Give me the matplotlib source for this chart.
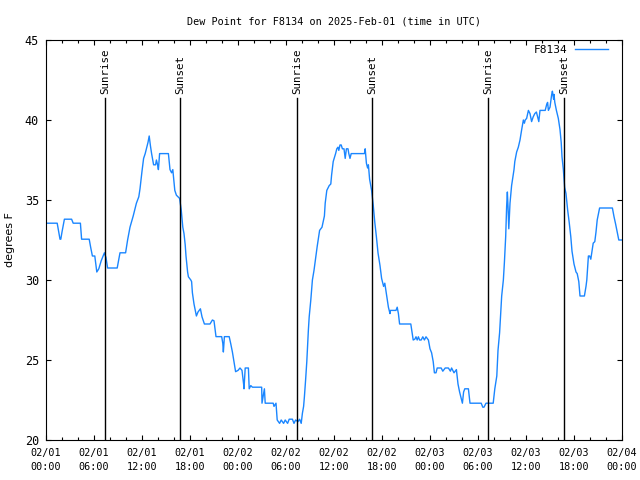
import matplotlib
matplotlib.use("Agg")
import matplotlib.pyplot as plt

# ── Data (hours since 2025-02-01 00:00 UTC, dew point in F) ──────────────────
hours = [
    0.0, 1.4, 1.6, 1.75, 1.85, 2.0, 2.3, 3.2, 3.4, 4.3, 4.45, 5.4, 5.6, 5.8,
    6.1, 6.25, 6.35, 6.6, 6.9, 7.3, 7.5, 7.7, 8.9, 9.1, 9.25, 9.95, 10.2, 10.5,
    10.9, 11.3, 11.6, 11.75, 12.0, 12.2, 12.4, 12.6, 12.75, 12.9, 13.05, 13.2,
    13.45, 13.7, 13.8, 13.95, 14.05, 14.2, 15.3, 15.5, 15.7, 15.85, 16.1, 16.3,
    16.7, 16.9, 17.1, 17.25, 17.4, 17.5, 17.7, 17.8, 18.1, 18.2, 18.3, 18.5,
    18.7, 18.8, 19.0, 19.3, 19.5, 19.8, 20.5, 20.8, 21.0, 21.25, 21.96, 22.1,
    22.17, 22.3, 22.9, 23.1, 23.3, 23.5, 23.7, 24.0, 24.25, 24.5, 24.7, 24.75,
    24.9, 25.3, 25.4, 25.6, 25.8, 26.96, 27.0, 27.2, 27.3, 27.4, 28.4, 28.5,
    28.75, 28.9, 29.2, 29.4, 29.7, 29.9, 30.2, 30.4, 30.8, 31.0, 31.2, 31.5,
    31.7, 31.9, 32.05, 32.2, 32.3, 32.45, 32.6, 32.8, 32.9, 33.1, 33.3, 33.5,
    33.7, 33.9, 34.2, 34.5, 34.8, 34.9, 35.1, 35.4, 35.6, 35.7, 35.9, 36.2,
    36.35, 36.5, 36.6, 36.75, 36.9, 37.05, 37.25, 37.4, 37.55, 37.75, 37.85,
    38.0, 38.15, 39.8, 39.9, 40.05, 40.2, 40.3, 40.45, 40.7, 40.9, 41.1, 41.3,
    41.5, 41.75, 41.95, 42.2, 42.35, 42.6, 42.8, 43.0, 43.05, 43.75, 43.9,
    44.05, 44.2, 45.6, 45.9, 46.1, 46.25, 46.4, 46.55, 46.7, 46.9, 47.1, 47.3,
    47.5, 47.8, 48.0, 48.2, 48.4, 48.55, 48.75, 48.9, 49.1, 49.4, 49.6, 49.9,
    50.3, 50.55, 50.7, 51.0, 51.3, 51.5, 51.7, 51.9, 52.05, 52.2, 52.35, 52.8,
    53.0, 54.4, 54.6, 54.75, 55.0, 55.9, 56.1, 56.35, 56.5, 56.7, 56.85, 56.96,
    57.17, 57.3, 57.46, 57.58, 57.67, 57.75, 57.85, 58.0, 58.2, 58.33, 58.5,
    58.6, 58.83, 59.04, 59.25, 59.46, 59.67, 59.8, 59.9, 60.08, 60.3, 60.5,
    60.7, 60.9, 61.1, 61.3, 61.45, 61.6, 61.75, 62.4, 62.6, 62.7, 62.8, 63.0,
    63.2, 63.3, 63.45, 63.5, 63.6, 63.8, 64.04, 64.25, 64.4, 64.5, 64.67,
    64.83, 65.0, 65.2, 65.4, 65.6, 65.75, 66.0, 66.25, 66.4, 66.6, 66.75, 67.3,
    67.5, 67.6, 67.8, 67.95, 68.1, 68.25, 68.4, 68.6, 68.75, 68.9, 69.2, 70.8,
    71.0, 71.2, 71.4, 71.6, 72.0,
]
dew_point = [
    33.55, 33.55, 33.0, 32.55, 32.55, 33.0, 33.8, 33.8, 33.55, 33.55, 32.55,
    32.55, 32.0, 31.5, 31.5, 30.9, 30.5, 30.7, 31.2, 31.7, 31.4, 30.75, 30.75,
    31.3, 31.7, 31.7, 32.5, 33.3, 34.0, 34.8, 35.2, 35.7, 36.8, 37.6, 37.9,
    38.3, 38.6, 39.0, 38.4, 37.9, 37.2, 37.2, 37.5, 37.2, 36.9, 37.9, 37.9,
    36.9, 36.7, 36.9, 35.6, 35.3, 35.1, 34.4, 33.3, 32.9, 32.2, 31.5, 30.5,
    30.2, 30.0, 29.9, 29.2, 28.5, 28.0, 27.75, 28.0, 28.2, 27.7, 27.25, 27.25,
    27.5, 27.45, 26.46, 26.46, 26.04, 25.5, 26.46, 26.46, 26.0, 25.5, 24.9,
    24.27, 24.35, 24.5, 24.35, 23.5, 23.2, 24.5, 24.5, 23.2, 23.4, 23.3, 23.3,
    22.3, 22.9, 23.2, 22.3, 22.3, 22.1, 22.3, 21.25, 21.04, 21.25, 21.04,
    21.25, 21.04, 21.3, 21.3, 21.04, 21.25, 21.15, 21.3, 21.04, 21.67, 22.1,
    22.7, 23.75, 24.9, 26.9, 27.7, 28.75, 30.0, 30.6, 31.35, 32.1, 33.1, 33.3,
    34.0, 34.8, 35.6, 35.9, 36.0, 36.56, 37.4, 37.9, 38.2, 38.3, 38.1, 38.44,
    38.44, 38.2, 38.2, 37.6, 38.2, 38.2, 37.9, 37.6, 37.9, 37.9, 38.2, 37.3,
    37.0, 37.2, 36.3, 35.6, 34.7, 33.6, 32.7, 31.7, 30.9, 30.1, 29.6, 29.8,
    28.96, 28.3, 27.9, 28.1, 28.1, 28.3, 27.9, 27.25, 27.25, 26.25, 26.3,
    26.45, 26.25, 26.45, 26.25, 26.25, 26.45, 26.25, 26.45, 26.25, 25.7, 25.45,
    24.9, 24.2, 24.2, 24.5, 24.5, 24.5, 24.3, 24.5, 24.5, 24.3, 24.5, 24.2,
    24.4, 23.5, 23.0, 22.6, 22.3, 23.0, 23.2, 23.2, 22.3, 22.3, 22.05, 22.05,
    22.3, 22.3, 23.2, 24.0, 25.6, 26.7, 28.0, 29.0, 30.0, 31.1, 32.7, 34.6,
    35.5, 34.6, 33.2, 34.8, 35.9, 36.35, 36.9, 37.4, 38.0, 38.3, 38.75, 39.4,
    40.0, 39.8, 40.0, 40.1, 40.6, 40.4, 39.9, 40.2, 40.4, 40.5, 40.2, 39.9,
    40.6, 40.6, 41.0, 41.1, 40.6, 40.8, 41.56, 41.8, 41.3, 41.6, 41.1, 40.6,
    40.1, 39.4, 38.6, 37.7, 36.9, 35.8, 35.4, 34.4, 33.6, 32.7, 31.8, 31.0,
    30.5, 30.4, 29.9, 29.0, 29.0, 29.6, 30.0, 31.5, 31.5, 31.3, 31.8, 32.3,
    32.4, 33.0, 33.75, 34.5, 34.5, 33.96, 33.5, 33.0, 32.5, 32.5,
]

sun_hours = [7.4, 16.8, 31.4, 40.8, 55.3, 64.8]
sun_labels = ["Sunrise", "Sunset", "Sunrise", "Sunset", "Sunrise", "Sunset"]

tick_hours = list(range(0, 73, 6))
tick_labels = [
    "02/01\n00:00", "02/01\n06:00", "02/01\n12:00", "02/01\n18:00",
    "02/02\n00:00", "02/02\n06:00", "02/02\n12:00", "02/02\n18:00",
    "02/03\n00:00", "02/03\n06:00", "02/03\n12:00", "02/03\n18:00",
    "02/04\n00:00",
]

# ── Plot ──────────────────────────────────────────────────────────────────────
plt.rcParams["font.family"] = "DejaVu Sans Mono"
plt.rcParams["font.size"] = 7.3

fig = plt.figure(figsize=(6.4, 4.8), dpi=100)
ax = fig.add_axes([46 / 640, 40 / 480, 576 / 640, 400 / 480])

ax.plot(hours, dew_point, color="#1a86ff", linewidth=1.0, label="F8134")

for h, lab in zip(sun_hours, sun_labels):
    ax.plot([h, h], [20, 41.4], color="black", linewidth=1.0)
    ax.text(h, 41.65, lab, rotation=90, ha="center", va="bottom", fontsize=7.8)

ax.set_xlim(0, 72)
ax.set_ylim(20, 45)
ax.set_xticks(tick_hours)
ax.set_xticklabels(tick_labels, linespacing=1.45)
ax.set_xticks(range(0, 73, 2), minor=True)
ax.set_yticks([20, 25, 30, 35, 40, 45])
ax.tick_params(which="both", direction="in", top=True, right=True, width=0.8)
ax.tick_params(which="major", length=3.5)
ax.tick_params(which="minor", length=2)
ax.tick_params(axis="x", pad=6)
ax.tick_params(axis="y", pad=5, labelsize=8.5)
for s in ax.spines.values():
    s.set_linewidth(0.8)

ax.set_ylabel("degrees F", fontsize=8, family="DejaVu Sans")
ax.yaxis.set_label_coords(-31 / 576, 0.5)
ax.set_title("Dew Point for F8134 on 2025-Feb-01 (time in UTC)", fontsize=7.3, pad=11)

ax.legend(loc="upper right", bbox_to_anchor=(0.993, 1.012), frameon=False,
          markerfirst=False, handlelength=3.0, handletextpad=0.6, fontsize=8)

plt.savefig("out.png", dpi=100)
